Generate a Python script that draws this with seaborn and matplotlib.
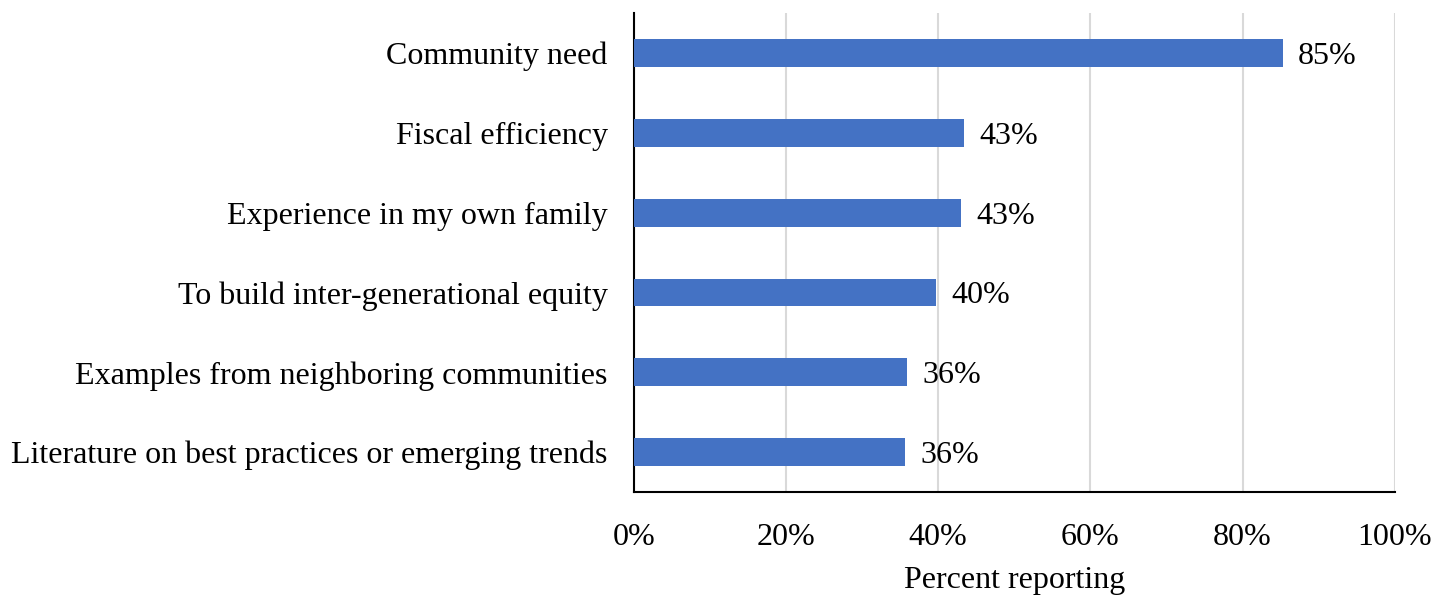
import matplotlib
matplotlib.use("Agg")
import matplotlib.pyplot as plt
import seaborn as sns
import pandas as pd
from matplotlib.ticker import PercentFormatter

# %% DATA
reasons = [
    "Community need",
    "Fiscal efficiency",
    "Experience in my own family",
    "To build inter-generational equity",
    "Examples from neighboring communities",
    "Literature on best practices or emerging trends",
]
shares = [0.853, 0.434, 0.430, 0.397, 0.359, 0.356]

df = pd.DataFrame({"reason": reasons, "share": shares})

# %% PLOT
sns.set_style("white")
plt.rcParams["font.family"] = ["Liberation Serif", "DejaVu Serif"]
plt.rcParams["text.color"] = "black"
plt.rcParams["xtick.color"] = "black"
plt.rcParams["ytick.color"] = "black"
plt.rcParams["axes.labelcolor"] = "black"

fs = 23

fig = plt.figure(figsize=(14.49, 5.95), dpi=100)
ax = fig.add_axes([0.4375, 0.173, 0.525, 0.805])

sns.barplot(data=df, x="share", y="reason", orient="h", color="#4472C4",
            width=0.35, saturation=1, linewidth=0, edgecolor="none",
            ax=ax, zorder=3)

txts = ax.bar_label(ax.containers[0], labels=[f"{v:.0%}" for v in shares],
                    padding=11, fontsize=fs, color="black")
for t in txts:
    t.set_va("center_baseline")

ax.set_xlim(0, 1)
ax.set_ylim(5.5, -0.5)
ax.xaxis.set_major_formatter(PercentFormatter(1.0, decimals=0))
ax.set_xticks([0, 0.2, 0.4, 0.6, 0.8, 1.0])
ax.grid(axis="x", color="#d9d9d9", linewidth=1.5, zorder=0)
ax.grid(axis="y", visible=False)

for s in ["top", "right"]:
    ax.spines[s].set_visible(False)
ax.spines["left"].set_color("black")
ax.spines["bottom"].set_color("black")
ax.spines["left"].set_linewidth(1.5)
ax.spines["bottom"].set_linewidth(1.5)

ax.tick_params(axis="y", length=0, pad=19, labelsize=fs)
ax.tick_params(axis="x", length=0, pad=22, labelsize=fs)
ax.set_ylabel("")
ax.set_xlabel("Percent reporting", fontsize=fs, labelpad=10)

fig.savefig("out.png", dpi=100)
